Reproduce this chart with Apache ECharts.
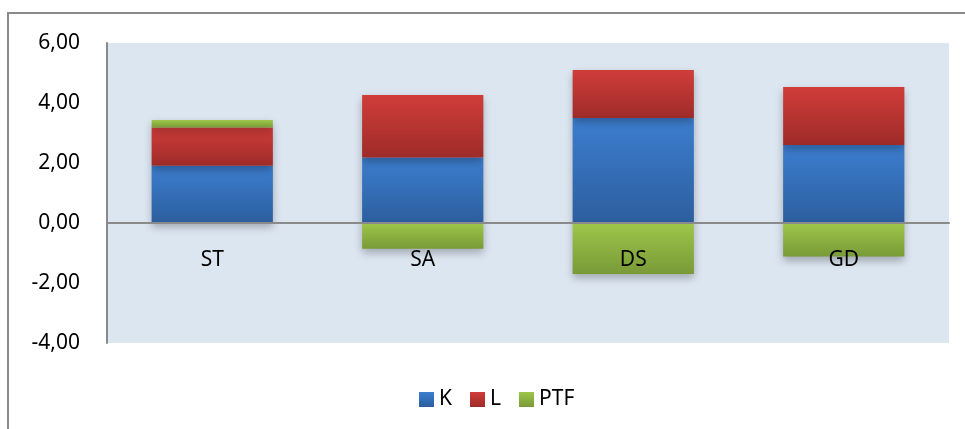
<!DOCTYPE html>
<html>
<head>
<meta charset="utf-8">
<script src="https://cdn.jsdelivr.net/npm/echarts@6/dist/echarts.min.js"></script>
<style>
  html, body { margin: 0; padding: 0; background: #fff; }
  #chart { width: 965px; height: 429px; }
</style>
</head>
<body>
<div id="chart"></div>
<script>
var categories = ['ST', 'SA', 'DS', 'GD'];
var seriesNames = ['K', 'L', 'PTF'];
var kValues = [1.91, 2.18, 3.50, 2.60];
var lValues = [1.27, 2.09, 1.60, 1.93];
var ptfValues = [0.25, -0.86, -1.70, -1.12];
var yTicks = [-4, -2, 0, 2, 4, 6];

var FONT = 'Noto Sans';

function grad(top, bottom) {
    return new echarts.graphic.LinearGradient(0, 0, 0, 1, [
        { offset: 0, color: top },
        { offset: 1, color: bottom }
    ]);
}

var fills = [
    grad('#3c7ecf', '#2c5e9e'),  // K
    grad('#d03d39', '#9e2b29'),  // L
    grad('#9ec64a', '#799a37')   // PTF
];

function makeSeries(name, data, idx) {
    return {
        name: name,
        type: 'bar',
        stack: 'total',
        barWidth: '57.6%',
        data: data,
        itemStyle: {
            color: fills[idx],
            shadowBlur: 8,
            shadowOffsetY: 4,
            shadowColor: 'rgba(0,0,0,0.28)'
        },
        emphasis: { disabled: true }
    };
}

var chart = echarts.init(document.getElementById('chart'));
var option = {
    animation: false,
    textStyle: { fontFamily: FONT },
    graphic: [{
        type: 'rect',
        z: -10,
        shape: { x: 8, y: 13, width: 1000, height: 500 },
        style: { fill: 'none', stroke: '#8a8a8a', lineWidth: 2 }
    }],
    grid: {
        left: 107,
        right: 16,
        top: 43,
        bottom: 86,
        show: true,
        backgroundColor: '#dce6f1',
        borderWidth: 0
    },
    legend: {
        data: seriesNames,
        left: 414,
        top: 384,
        itemWidth: 15,
        itemHeight: 15,
        itemGap: 18,
        icon: 'rect',
        textStyle: { fontFamily: FONT, fontSize: 21, color: '#000' }
    },
    xAxis: [{
        // zero line
        type: 'category',
        data: categories,
        z: 10,
        axisLine: { onZero: true, lineStyle: { color: '#8a8a8a', width: 2 } },
        axisTick: { show: false },
        axisLabel: { show: false },
        splitLine: { show: false }
    }, {
        // category labels just under the zero line
        type: 'category',
        data: categories,
        position: 'bottom',
        offset: -120,
        z: 10,
        axisLine: { show: false },
        axisTick: { show: false },
        axisLabel: { margin: 27, fontSize: 21, color: '#000', fontFamily: FONT },
        splitLine: { show: false }
    }],
    yAxis: {
        type: 'value',
        min: yTicks[0],
        max: yTicks[yTicks.length - 1],
        interval: 2,
        axisLine: { show: true, lineStyle: { color: '#8a8a8a', width: 2 } },
        axisTick: { show: false },
        splitLine: { show: false },
        axisLabel: {
            margin: 27,
            fontSize: 21,
            color: '#000',
            fontFamily: FONT,
            formatter: function (v) { return v.toFixed(2).replace('.', ','); }
        }
    },
    series: [
        makeSeries('K', kValues, 0),
        makeSeries('L', lValues, 1),
        makeSeries('PTF', ptfValues, 2)
    ]
};
chart.setOption(option);
</script>
</body>
</html>
